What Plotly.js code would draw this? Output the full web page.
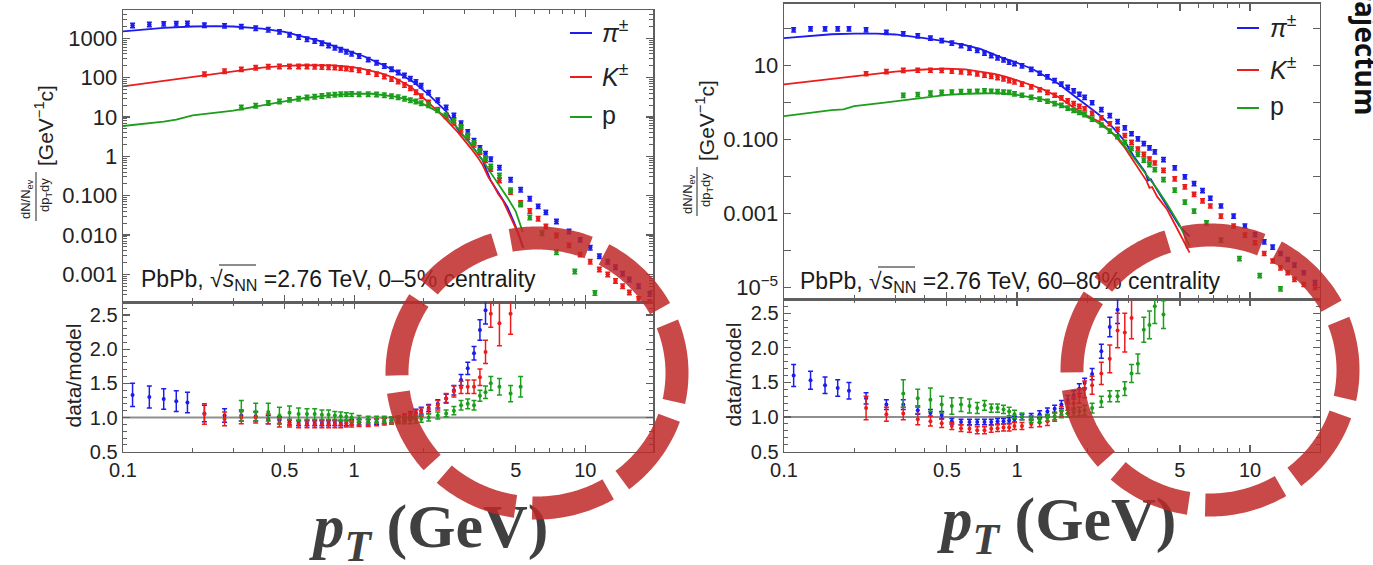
<!DOCTYPE html>
<html>
<head>
<meta charset="utf-8">
<script src="https://cdn.plot.ly/plotly-3.0.1.min.js"></script>
<style>
  html, body { margin: 0; padding: 0; background: #fff; overflow: hidden; }
  #chart { width: 1373px; height: 565px; }
</style>
</head>
<body>
<div id="chart"></div>
<script>
// ---------- transverse-momentum bins (GeV) ----------
const ptPi = [0.11,0.13,0.15,0.17,0.19,0.225,0.275,0.325,0.375,0.425,0.475,0.525,0.575,0.625,0.675,0.725,0.775,0.825,0.875,0.925,0.975,
              1.05,1.15,1.25,1.35,1.45,1.55,1.65,1.75,1.85,1.95,
              2.1,2.3,2.5,2.7,2.9,3.1,3.3,3.5,3.7,3.9,
              4.25,4.75,5.25,5.75,6.25,6.75,7.5,8.5,9.5,10.5,11.5,12.5,13.5,14.5,15.5,17,19];
const ptK  = ptPi.slice(5);
const ptP  = [0.325,0.375,0.425,0.475,0.525,0.575,0.625,0.675,0.725,0.775,0.825,0.875,0.925,0.975,
              1.05,1.15,1.25,1.35,1.45,1.55,1.65,1.75,1.85,1.95,
              2.1,2.3,2.5,2.7,2.9,3.1,3.3,3.5,3.7,3.9,
              4.25,4.75,5.25,5.75,6.5,7.5,9,11,13.5];

// ---------- 0-5% centrality: measured spectra ----------
const piData05 = [2130,2260,2350,2380,2420,2170,2090,2000,1830,1670,1470,1240,1090,960,860,755,665,580,515,460,410,
                  360,290,240,200,165,137,115,95,78,63,
                  42,27,17.5,11,7.0,4.2,2.5,1.64,1.18,0.85,
                  0.52,0.257,0.143,0.084,0.054,0.038,0.0224,0.0124,0.0076,0.0048,0.0029,0.0021,0.00153,0.00104,0.00075,0.0005,0.00032];
const kData05  = [123,146,164,180,190,193,194,194,193,191,189,186,182,177,172,166,
                  155,140,124,108,93,80,66,54,43,34,
                  23.5,15.5,10.5,7.2,4.8,3.1,2.0,1.3,0.8,0.48,
                  0.245,0.125,0.066,0.041,0.026,0.0166,0.0098,0.0055,0.0032,0.0021,0.00134,0.001,0.00068,0.0005,0.00035,0.00024,0.0002];
const pData05  = [17.5,19.4,23,25,27.5,29.5,31.5,33,34.5,36,37,38,38.5,39,
                  38,38,37.5,36,34,32,29.5,27,25,22.5,
                  20,15,11.2,8.0,5.6,3.4,2.2,1.4,0.9,0.56,
                  0.33,0.138,0.060,0.028,0.0112,0.0037,0.0012,0.00034,null];

// ---------- 0-5% centrality: model curves ----------
const piModX05 = [0.1,0.12,0.15,0.2,0.25,0.3,0.35,0.4,0.5,0.6,0.7,0.8,1.0,1.1,1.3,1.5,1.8,2.1,2.5,2.87,3.1,3.29,3.45,3.6,3.75,3.9,4.2,4.4,4.6,4.9,5.1,5.36];
const piMod05  = [1500,1680,1850,2000,2050,2000,1900,1760,1450,1120,870,660,430,350,225,150,78,37,14,4.0,2.6,1.6,1.05,0.78,0.42,0.24,0.12,0.08,0.052,0.022,0.012,0.0049];
const kModX05  = [0.1,0.15,0.2,0.25,0.3,0.4,0.5,0.6,0.8,1.0,1.1,1.3,1.5,1.75,2.0,2.2,2.4,2.8,3.0,3.2,3.4,3.6,3.8,4.0,4.2,4.4,4.6,5.0,5.2,5.4];
const kMod05   = [60,82,105,125,145,180,200,207,205,182,165,130,98,60,30,18,11,4.2,2.6,1.6,1.0,0.6,0.3,0.19,0.11,0.075,0.043,0.015,0.009,0.0047];
const pModX05  = [0.1,0.15,0.17,0.2,0.3,0.4,0.5,0.6,0.8,1.0,1.2,1.5,1.8,2.0,2.4,2.8,3.2,3.6,3.9,4.2,4.6,5.0,5.36];
const pMod05   = [5.9,7.6,8.6,11,14.5,20,25,30,36,39,39,33,26,21,12,5.3,2.0,0.8,0.38,0.2,0.09,0.04,0.012];

// ---------- 0-5% centrality: data / model ----------
const piRatio05 = [1.33,1.30,1.27,1.24,1.22,1.06,1.03,1.03,1.02,0.97,0.96,0.93,0.92,0.92,0.92,0.92,0.92,0.92,0.92,0.92,0.93,
                   0.93,0.93,0.94,0.95,0.96,0.98,1.01,1.04,1.07,1.10,
                   1.14,1.20,1.28,1.40,1.55,1.72,1.94,2.28,2.57];
const piRatioErr05 = [0.17,0.16,0.15,0.15,0.15,0.12,0.10,0.08,0.07,0.06,0.05,0.04,0.04,0.04,0.04,0.04,0.04,0.04,0.04,0.04,0.04,
                      0.04,0.04,0.04,0.04,0.04,0.04,0.04,0.05,0.05,0.05,
                      0.05,0.06,0.06,0.07,0.08,0.09,0.10,0.15,0.20];
const kRatio05  = [1.05,0.98,1.00,1.00,0.98,0.92,0.91,0.90,0.90,0.90,0.90,0.90,0.90,0.90,0.91,0.91,
                   0.92,0.92,0.93,0.94,0.95,0.97,0.99,1.02,1.05,1.08,
                   1.12,1.18,1.28,1.38,1.44,1.45,1.45,1.59,1.96,2.52,
                   2.38,2.52];
const kRatioErr05 = [0.15,0.10,0.09,0.08,0.07,0.06,0.05,0.05,0.05,0.05,0.05,0.05,0.05,0.05,0.05,0.05,
                     0.05,0.05,0.05,0.05,0.05,0.05,0.05,0.05,0.06,0.06,
                     0.06,0.07,0.07,0.08,0.09,0.10,0.10,0.12,0.17,0.20,
                     0.33,0.30];
const pRatio05  = [1.10,1.08,1.08,1.03,1.07,1.05,1.05,1.05,1.04,1.04,1.03,1.02,1.01,1.00,
                   0.98,0.97,0.97,0.97,0.96,0.96,0.96,0.96,0.97,0.98,
                   1.00,1.03,1.06,1.10,1.18,1.20,1.18,1.32,1.37,1.50,
                   1.45,1.35,1.45];
const pRatioErr05 = [0.15,0.13,0.13,0.12,0.10,0.09,0.08,0.08,0.07,0.07,0.06,0.06,0.06,0.06,
                     0.05,0.05,0.05,0.05,0.05,0.05,0.05,0.05,0.05,0.05,
                     0.05,0.05,0.05,0.06,0.07,0.07,0.07,0.08,0.09,0.10,
                     0.12,0.12,0.15];

// ---------- 60-80% centrality: measured spectra ----------
const piData6080 = [94,100,100,100,100,94,81,73,65,56,48,41,35,30,26,22,19,16.5,14.5,12.5,11.5,
                    10,8,6.3,5.0,4.0,3.2,2.6,2.1,1.7,1.4,
                    1.0,0.65,0.45,0.31,0.21,0.145,0.105,0.078,0.060,0.047,
                    0.029,0.0172,0.0098,0.0065,0.0042,0.0026,0.0016,0.00085,0.00046,0.00027,0.000172,0.000124,0.000083,0.000057,0.00004,0.000025,0.0000135];
const kData6080  = [6.1,7.0,7.5,7.6,7.6,7.5,7.2,6.9,6.5,6.0,5.6,5.2,4.8,4.4,4.0,3.7,
                    3.2,2.7,2.25,1.9,1.6,1.35,1.13,0.95,0.8,0.68,
                    0.52,0.39,0.27,0.19,0.13,0.085,0.056,0.04,0.03,0.0234,
                    0.0148,0.0087,0.0053,0.0033,0.0022,0.0016,0.00085,0.00046,0.00026,0.000162,0.000083,0.000052,0.000034,0.000025,0.0000166,0.000012,0.00001];
const pData6080  = [1.58,1.66,1.82,1.9,1.95,2.0,2.02,2.05,2.1,2.05,2.0,1.95,1.9,1.75,
                    1.6,1.4,1.25,1.1,0.95,0.85,0.72,0.62,0.55,0.48,
                    0.36,0.25,0.17,0.12,0.085,0.058,0.04,0.028,0.021,0.0155,
                    0.0083,0.0043,0.00204,0.00116,0.00056,0.00019,0.00006,0.000021,0.0000091];

// ---------- 60-80% centrality: model curves ----------
const piModX6080 = [0.1,0.13,0.16,0.2,0.25,0.3,0.35,0.4,0.5,0.6,0.7,0.85,1.0,1.17,1.5,1.8,2.0,2.27,2.6,2.9,3.16,3.4,3.55,3.65,3.75,4.0,4.4,4.97,5.5];
const piMod6080  = [56,65,71,74,74,70,63,56,45,36,28,17,12,8,3.3,1.4,0.85,0.45,0.2,0.09,0.036,0.018,0.013,0.0078,0.0085,0.0042,0.0016,0.00046,0.00024];
const kModX6080  = [0.1,0.15,0.2,0.25,0.3,0.4,0.5,0.6,0.7,0.8,0.9,1.0,1.14,1.3,1.5,1.8,2.0,2.27,2.6,2.9,3.16,3.4,3.6,3.7,3.8,4.0,4.4,4.97,5.5];
const kMod6080   = [3.1,4.1,5.0,6.0,6.9,7.9,8.3,8.0,7.0,6.0,5.0,4.1,3.05,2.25,1.45,0.65,0.44,0.3,0.14,0.06,0.026,0.013,0.0075,0.0049,0.0052,0.0028,0.0013,0.0003,0.000087];
const pModX6080  = [0.1,0.13,0.16,0.18,0.2,0.27,0.37,0.5,0.61,0.75,0.85,1.0,1.14,1.3,1.58,1.9,2.2,2.5,2.8,3.16,3.4,3.7,4.0,4.4,4.97,5.5];
const pMod6080   = [0.43,0.53,0.63,0.66,0.8,1.0,1.3,1.62,1.74,1.82,1.8,1.62,1.42,1.2,0.8,0.48,0.3,0.17,0.09,0.032,0.017,0.0085,0.0045,0.0018,0.0005,0.00013];

// ---------- 60-80% centrality: data / model ----------
const piRatio6080 = [1.60,1.53,1.46,1.42,1.38,1.27,1.18,1.18,1.10,1.06,1.03,0.94,0.93,0.93,0.93,0.93,0.93,0.94,0.94,0.95,0.97,
                     1.00,1.01,1.04,1.08,1.12,1.18,1.25,1.32,1.41,1.49,
                     1.62,1.95,2.30,2.55];
const piRatioErr6080 = [0.16,0.13,0.12,0.12,0.12,0.08,0.07,0.07,0.06,0.05,0.05,0.04,0.04,0.04,0.04,0.04,0.04,0.04,0.04,0.04,0.04,
                        0.04,0.04,0.05,0.05,0.05,0.06,0.06,0.06,0.07,0.07,
                        0.08,0.10,0.14,0.20];
const kRatio6080  = [1.13,1.04,1.05,0.97,0.94,0.91,0.87,0.84,0.83,0.81,0.81,0.83,0.84,0.85,0.85,0.87,
                     0.87,0.90,0.92,0.94,1.00,1.08,1.13,1.20,1.30,1.40,
                     1.46,1.63,1.84,2.25,2.22,2.43];
const kRatioErr6080 = [0.17,0.10,0.09,0.08,0.07,0.06,0.05,0.05,0.05,0.05,0.05,0.05,0.05,0.05,0.05,0.05,
                       0.05,0.05,0.06,0.06,0.06,0.07,0.08,0.09,0.10,0.12,
                       0.13,0.16,0.20,0.25,0.28,0.30];
const pRatio6080  = [1.34,1.27,1.25,1.18,1.16,1.18,1.16,1.13,1.17,1.13,1.13,1.11,1.08,1.04,
                     1.01,0.97,0.97,0.99,1.01,1.04,1.05,1.07,1.08,1.10,
                     1.13,1.22,1.30,1.30,1.41,1.63,1.77,2.26,2.33,2.60,
                     2.48];
const pRatioErr6080 = [0.20,0.13,0.17,0.12,0.12,0.10,0.10,0.08,0.07,0.06,0.06,0.06,0.06,0.06,
                       0.05,0.05,0.05,0.05,0.05,0.05,0.05,0.06,0.06,0.07,
                       0.07,0.08,0.08,0.08,0.10,0.13,0.14,0.18,0.20,0.25,
                       0.20];

// ---------- tick labels ----------
const xTickVals = [0.1, 0.5, 1, 5, 10];
const xTickText = ['0.1', '0.5', '1', '5', '10'];
const xMinorVals = [0.2,0.3,0.4,0.6,0.7,0.8,0.9,2,3,4,6,7,8,9,20];
const yTickVals05 = [0.001,0.01,0.1,1,10,100,1000];
const yTickText05 = ['0.001','0.010','0.100','1','10','100','1000'];
const yTickVals6080 = [1e-5,1e-4,1e-3,1e-2,0.1,1,10,100];
const yTickText6080 = ['10<sup>\u22125</sup>','','0.001','','0.100','','10',''];
const rTickVals = [0.5, 1, 1.5, 2, 2.5];
const rTickText = ['0.5', '1.0', '1.5', '2.0', '2.5'];

// ---------- drawing ----------
const W = 1373, H = 565;
const fx = p => p / W;        // pixel column -> paper x
const fy = p => 1 - p / H;    // pixel row -> paper y

const COL = { pi: '#1c1cec', k: '#ec1c1c', p: '#1c9e1c' };
const FRAME = '#5f5f5f';
const SANS = 'Liberation Sans, Arial, sans-serif';

// minor ticks on the log spectra axis: 2..9 within every decade
const yMinor05 = [];
for (let e = -4; e <= 3; e++) for (let m = 2; m <= 9; m++) yMinor05.push(m * Math.pow(10, e));

const traces = [];
function model(x, y, color, xa, ya) {
  traces.push({ type: 'scatter', mode: 'lines', x, y, xaxis: xa, yaxis: ya,
    line: { color, width: 1.8 }, hoverinfo: 'skip', showlegend: false });
}
function spectrum(x, y, color, xa, ya) {
  traces.push({ type: 'scatter', mode: 'markers', x, y, xaxis: xa, yaxis: ya,
    marker: { color, size: 4.5 },
    error_y: { type: 'percent', value: 13, color, thickness: 1.5, width: 2.5 },
    hoverinfo: 'skip', showlegend: false });
}
function ratio(x, y, err, color, xa, ya) {
  traces.push({ type: 'scatter', mode: 'markers', x: x.slice(0, y.length), y, xaxis: xa, yaxis: ya,
    marker: { color, size: 4 },
    error_y: { type: 'data', array: err, color, thickness: 1.5, width: 2.5 },
    hoverinfo: 'skip', showlegend: false });
}

// 0-5% panel
model(piModX05, piMod05, COL.pi, 'x', 'y');
model(kModX05, kMod05, COL.k, 'x', 'y');
model(pModX05, pMod05, COL.p, 'x', 'y');
spectrum(ptPi, piData05, COL.pi, 'x', 'y');
spectrum(ptK, kData05, COL.k, 'x', 'y');
spectrum(ptP, pData05, COL.p, 'x', 'y');
ratio(ptPi, piRatio05, piRatioErr05, COL.pi, 'x2', 'y2');
ratio(ptK, kRatio05, kRatioErr05, COL.k, 'x2', 'y2');
ratio(ptP, pRatio05, pRatioErr05, COL.p, 'x2', 'y2');

// 60-80% panel
model(piModX6080, piMod6080, COL.pi, 'x3', 'y3');
model(kModX6080, kMod6080, COL.k, 'x3', 'y3');
model(pModX6080, pMod6080, COL.p, 'x3', 'y3');
spectrum(ptPi, piData6080, COL.pi, 'x3', 'y3');
spectrum(ptK, kData6080, COL.k, 'x3', 'y3');
spectrum(ptP, pData6080, COL.p, 'x3', 'y3');
ratio(ptPi, piRatio6080, piRatioErr6080, COL.pi, 'x4', 'y4');
ratio(ptK, kRatio6080, kRatioErr6080, COL.k, 'x4', 'y4');
ratio(ptP, pRatio6080, pRatioErr6080, COL.p, 'x4', 'y4');

// ---------- axes ----------
const frame = {
  showline: true, linecolor: FRAME, linewidth: 1.4, mirror: 'ticks',
  ticks: 'inside', ticklen: 7, tickwidth: 1.2, tickcolor: FRAME,
  showgrid: false, zeroline: false, fixedrange: true
};
const minorTicks = { ticks: 'inside', ticklen: 4, tickwidth: 1, tickcolor: FRAME, showgrid: false };

function logX(domain, range, anchor, labels) {
  return Object.assign({}, frame, {
    type: 'log', domain, range, anchor,
    tickmode: 'array', tickvals: xTickVals, ticktext: xTickText,
    showticklabels: labels, tickfont: { family: SANS, size: 20, color: '#222' },
    minor: Object.assign({ tickmode: 'array', tickvals: xMinorVals }, minorTicks)
  });
}
function ratioY(domain, range, anchor) {
  return Object.assign({}, frame, {
    domain, range, anchor, tickmode: 'array', tickvals: rTickVals, ticktext: rTickText,
    tickfont: { family: SANS, size: 20, color: '#222' },
    minor: Object.assign({ dtick: 0.1 }, minorTicks)
  });
}

const xL = [fx(123), fx(653.3)], xR = [fx(784), fx(1320)];

const layout = {
  width: W, height: H,
  margin: { l: 0, r: 0, t: 0, b: 0, pad: 0 },
  paper_bgcolor: '#fff', plot_bgcolor: '#fff',
  font: { family: SANS, color: '#222' },
  showlegend: false,
  xaxis:  logX(xL, [-1, 1.294], 'y', false),
  yaxis:  Object.assign({}, frame, {
            type: 'log', domain: [fy(302.3), fy(10)], range: [-3.71, 3.72], anchor: 'x',
            tickmode: 'array', tickvals: yTickVals05, ticktext: yTickText05,
            tickfont: { family: SANS, size: 22, color: '#222' },
            minor: Object.assign({ tickmode: 'array', tickvals: yMinor05 }, minorTicks) }),
  xaxis2: logX(xL, [-1, 1.294], 'y2', true),
  yaxis2: ratioY([fy(451.7), fy(302.3)], [0.5, 2.686], 'x2'),
  xaxis3: logX(xR, [-1, 1.300], 'y3', false),
  yaxis3: Object.assign({}, frame, {
            type: 'log', domain: [fy(299.3), fy(3.5)], range: [-5.325, 2.684], anchor: 'x3',
            tickmode: 'array', tickvals: yTickVals6080, ticktext: yTickText6080,
            tickfont: { family: SANS, size: 22, color: '#222' } }),
  xaxis4: logX(xR, [-1, 1.300], 'y4', true),
  yaxis4: ratioY([fy(451.7), fy(299.3)], [0.5, 2.70], 'x4'),
  annotations: [],
  shapes: []
};

const A = layout.annotations, S = layout.shapes;
function note(text, x, y, size, extra) {
  A.push(Object.assign({ text, xref: 'paper', yref: 'paper', x: fx(x), y: fy(y),
    showarrow: false, xanchor: 'center', yanchor: 'middle',
    font: { family: SANS, size, color: '#222' } }, extra || {}));
}

// axis titles of the spectra panels (fraction written as two stacked rotated lines)
[[0, 0], [661, -5]].forEach(([dx, dy]) => {
  note('dN/N<sub>ev</sub>', 27 + dx, 199 + dy, 13, { textangle: -90 });
  note('dp<sub>T</sub>dy', 45 + dx, 195 + dy, 13, { textangle: -90 });
  note('[GeV<sup>\u22121</sup>c]', 44 + dx, 126 + dy, 21, { textangle: -90 });
  S.push({ type: 'line', xref: 'paper', yref: 'paper', x0: fx(36 + dx), x1: fx(36 + dx),
           y0: fy(172 + dy), y1: fy(221 + dy), line: { color: '#222', width: 1 } });
});
note('data/model', 72.5, 376, 21, { textangle: -90 });
note('data/model', 732.5, 375, 21, { textangle: -90 });

// legends
const legendRows = [['<i>\u03c0</i><sup>\u00b1</sup>', COL.pi], ['<i>K</i><sup>\u00b1</sup>', COL.k], ['p', COL.p]];
[[570, 600, [33, 77, 117]], [1237, 1268, [28, 70, 108]]].forEach(([lx, tx, rows]) => {
  legendRows.forEach(([label, color], i) => {
    S.push({ type: 'line', xref: 'paper', yref: 'paper', x0: fx(lx), x1: fx(lx + 22),
             y0: fy(rows[i]), y1: fy(rows[i]), line: { color, width: 2 } });
    note(label, tx, rows[i] - 2, 25, { xanchor: 'left' });
  });
});

// unit ratio reference lines
['2', '4'].forEach(n => S.push({ type: 'line', layer: 'below', xref: 'x' + n + ' domain', x0: 0, x1: 1,
  yref: 'y' + n, y0: 1, y1: 1, line: { color: '#8e8e8e', width: 2 } }));

// text that sits underneath the highlight rings
function textBox(text, x0, x1, yc, size, family, color, pos) {
  S.push({ type: 'rect', xref: 'paper', yref: 'paper', x0: fx(x0), x1: fx(x1), y0: fy(yc + 20), y1: fy(yc - 20),
           line: { width: 0 }, fillcolor: 'rgba(0,0,0,0)',
           label: { text, textposition: pos, padding: 0, font: { family, size, color } } });
}
textBox('PbPb, \u221a<i>s</i><sub>NN</sub> =2.76 TeV, 0\u20135% centrality', 138, 600, 278, 23, SANS, '#1a1a1a', 'middle left');
textBox('PbPb, \u221a<i>s</i><sub>NN</sub> =2.76 TeV, 60\u201380% centrality', 797, 1260, 280, 23, SANS, '#1a1a1a', 'middle left');
S.push({ type: 'line', xref: 'paper', yref: 'paper', x0: fx(219), x1: fx(256), y0: fy(265), y1: fy(265), line: { color: '#1a1a1a', width: 1.2 } });
S.push({ type: 'line', xref: 'paper', yref: 'paper', x0: fx(878), x1: fx(915), y0: fy(267), y1: fy(267), line: { color: '#1a1a1a', width: 1.2 } });
const SERIF = 'Liberation Serif, Times New Roman, serif';
textBox('<b><i>p</i><sub><i>T</i></sub> (GeV)</b>', 300, 562, 524, 62, SERIF, '#404040', 'middle center');
textBox('<b><i>p</i><sub><i>T</i></sub> (GeV)</b>', 928, 1190, 517, 62, SERIF, '#404040', 'middle center');

// dashed highlight rings
function ring(cx, cy, rx, ry) {
  const n = 360;
  let d = '', per = 0, prev = null;
  for (let i = 0; i <= n; i++) {
    const t = 2 * Math.PI * i / n;
    const X = cx + rx * Math.cos(t), Y = cy + ry * Math.sin(t);
    if (prev) per += Math.hypot(X - prev[0], Y - prev[1]);
    prev = [X, Y];
    d += (i ? 'L' : 'M') + fx(X).toFixed(5) + ',' + fy(Y).toFixed(5);
  }
  const deg = [12, 7]; for (let k = 0; k < 8; k++) deg.push(33, 7); deg.push(21);
  const dash = deg.map(v => (v / 360 * per).toFixed(1) + 'px').join(',');
  S.push({ type: 'path', xref: 'paper', yref: 'paper', path: d,
           line: { color: 'rgba(192,40,40,0.85)', width: 23, dash } });
}
ring(537, 373, 140, 135);
ring(1210, 370, 138, 135);

// side caption, clipped by the page edge
note('<b>Trajectum</b>', 1366, 43, 28, { textangle: 90, font: { family: 'Open Sans, sans-serif', size: 28, color: '#111' } });

Plotly.newPlot('chart', traces, layout, { staticPlot: true, displayModeBar: false });
</script>
</body>
</html>
